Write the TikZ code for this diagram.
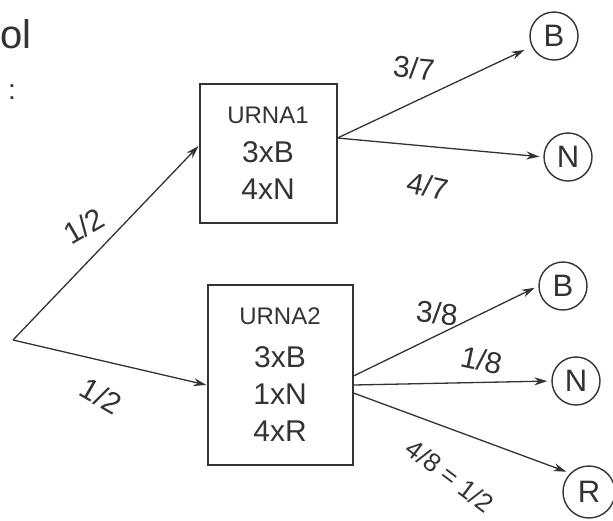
\documentclass[tikz,border=0pt]{standalone}
\usepackage{fontspec}
\setmainfont{Liberation Sans}
\usetikzlibrary{arrows.meta}
\newcommand\urnheadfont{\fontsize{24}{26}\selectfont}

\begin{document}
\begin{tikzpicture}[x=1pt,y=-1pt,
  ink/.style={draw=black!80, line width=1.4pt},
  branch/.style={ink, line width=1.3pt, -{Stealth[length=13pt,width=8pt]}},
  urn/.style={ink, line width=2pt, rectangle, align=center,
    font=\fontsize{30}{37}\selectfont, text=black!80},
  ball/.style={ink, circle, minimum size=48pt, inner sep=0pt,
    font=\fontsize{31}{33}\selectfont, text=black!80},
  prob/.style={font=\fontsize{30}{32}\selectfont, text=black!80, inner sep=1pt}]
\useasboundingbox[fill=white] (0,0) rectangle (613,520);

% fragments of writing at the left margin
\node[anchor=base west, font=\fontsize{40}{42}\selectfont, text=black!80, inner sep=0pt] (ol) at (0,48) {ol};
\node[font=\fontsize{28}{30}\selectfont, text=black!80] (colon) at (12,92) {:};

% starting point of the tree
\coordinate (root) at (13,340);

% the two urns
\node[urn, minimum width=137pt, minimum height=139pt] (u1) at (268,153)
  {{\urnheadfont URNA1}\\[2pt]3xB\\4xN};
\node[urn, minimum width=145pt, minimum height=180pt] (u2) at (280,375)
  {{\urnheadfont URNA2}\\[6pt]3xB\\1xN\\4xR};

% outcomes
\node[ball] (b1) at (554,36) {B};
\node[ball] (n1) at (568,157) {N};
\node[ball] (b2) at (563,286) {B};
\node[ball] (n2) at (576,381) {N};
\node[ball, minimum size=52pt] (r2) at (589,492) {R};

% first stage
\draw[branch] (root) -- ([yshift=7pt]u1.west);
\draw[branch] (root) -- ([yshift=-10pt]u2.west);
\node[prob, rotate=30] (p1) at (84,226) {1/2};
\node[prob, rotate=-30] (p2) at (101,396) {1/2};

% second stage, urn 1
\coordinate (o1) at ([yshift=15pt]u1.east);
\draw[branch, shorten >=8pt] (o1) -- (b1);
\draw[branch, shorten >=4pt] (o1) -- (n1.west);
\node[prob, rotate=-5] (p3) at (414,68) {3/7};
\node[prob, rotate=-12] (p4) at (428,186) {4/7};

% second stage, urn 2
\draw[branch, shorten >=4pt] ([yshift=-1pt]u2.east) -- (b2.west);
\draw[branch, shorten >=4pt] ([yshift=-10pt]u2.east) -- (n2.west);
\draw[branch, shorten >=4pt] ([yshift=-18pt]u2.east) -- (r2.north west);
\node[prob, rotate=-5] (p5) at (437,313) {3/8};
\node[prob, rotate=-12] (p6) at (482,360) {1/8};
\node[prob, rotate=-37, font=\fontsize{26}{28}\selectfont] (p7) at (450,476) {4/8 = 1/2};
\end{tikzpicture}
\end{document}
